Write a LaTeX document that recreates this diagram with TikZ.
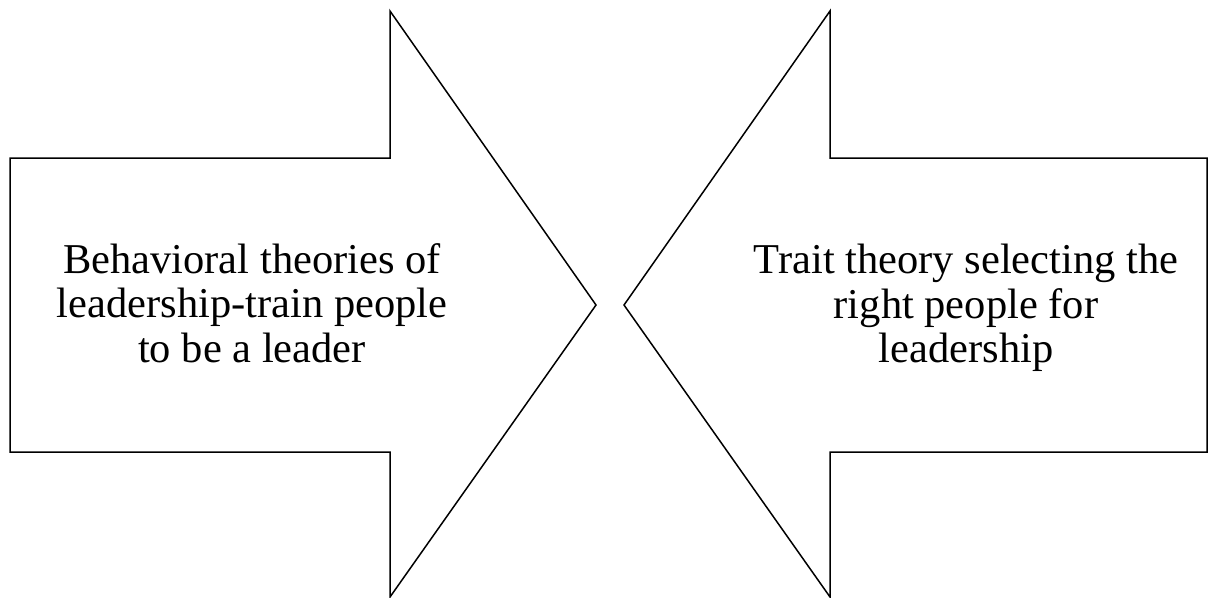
\documentclass[tikz,border=0pt]{standalone}
\usepackage{fontspec}
\setmainfont{Liberation Serif}
\begin{document}
\begin{tikzpicture}[x=1pt,y=-1pt,
  arrowshape/.style={draw=black,line width=1.5pt,line join=miter,fill=white},
  lbl/.style={align=center,font=\fontsize{42.5}{44.5}\selectfont,inner sep=0pt}]
\useasboundingbox (0,0) rectangle (1209,597);
\draw[arrowshape] (10,158) -- (390,158) -- (390,11) -- (596,305) -- (390,597) -- (390,452) -- (10,452) -- cycle;
\draw[arrowshape] (1207,158) -- (830,158) -- (830,11) -- (624,305) -- (830,597) -- (830,452) -- (1207,452) -- cycle;
\node[lbl] (left) at (252,303) {Behavioral theories of\\leadership-train people\\to be a leader};
\node[lbl] (right) at (966,308) {Trait theory selecting the\\right people for\\leadership};
\end{tikzpicture}
\end{document}
